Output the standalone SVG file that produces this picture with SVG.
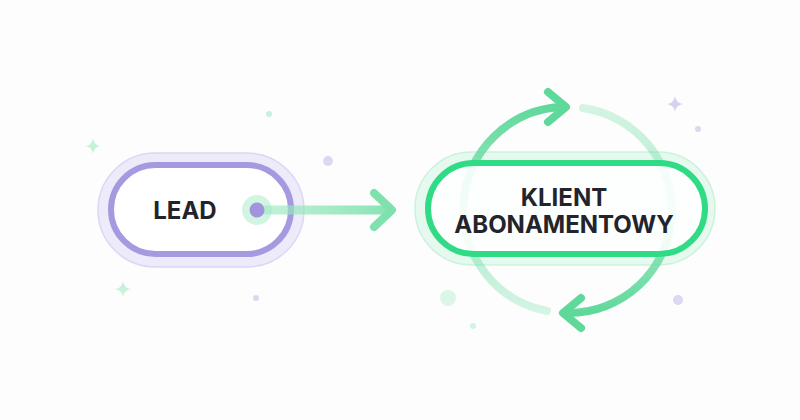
<svg xmlns="http://www.w3.org/2000/svg" width="800" height="420" viewBox="0 0 800 420">
<defs>
<style>
.lbl{font-family:Inter,"Liberation Sans",sans-serif;font-weight:700;fill:#23232b;text-anchor:middle}
.arc{fill:none;stroke-width:8;stroke-linecap:round}
.chev{fill:none;stroke:#5ed99a;stroke-width:8;stroke-linecap:round;stroke-linejoin:round}
.star-g{fill:#c6f1da}
.star-p{fill:#d6d0f2}
</style>
<linearGradient id="g1" gradientUnits="userSpaceOnUse" x1="0" y1="312" x2="0" y2="105">
<stop offset="0" stop-color="#5ed99a" stop-opacity="0.25"/>
<stop offset="0.5" stop-color="#5ed99a" stop-opacity="0.55"/>
<stop offset="1" stop-color="#5ed99a" stop-opacity="1"/>
</linearGradient>
<linearGradient id="g2" gradientUnits="userSpaceOnUse" x1="0" y1="105" x2="0" y2="313">
<stop offset="0" stop-color="#5ed99a" stop-opacity="0.25"/>
<stop offset="0.5" stop-color="#5ed99a" stop-opacity="0.5"/>
<stop offset="1" stop-color="#5ed99a" stop-opacity="1"/>
</linearGradient>
<linearGradient id="g3" gradientUnits="userSpaceOnUse" x1="257" y1="0" x2="393" y2="0">
<stop offset="0" stop-color="#9fe9c2" stop-opacity="0.6"/>
<stop offset="1" stop-color="#7fe2ae" stop-opacity="0.95"/>
</linearGradient>
</defs>
<rect width="800" height="420" fill="#fdfdfd"/>

<g id="decor">
<path class="star-g" d="M93 138 Q94 145 100 146 Q94 147 93 154 Q92 147 86 146 Q92 145 93 138Z"/>
<path class="star-g" d="M123 281 Q124 288 131 289 Q124 290 123 297 Q122 290 115 289 Q122 288 123 281Z"/>
<path class="star-p" d="M675 96 Q676 103 683 104 Q676 105 675 112 Q674 105 667 104 Q674 103 675 96Z"/>
<circle cx="269" cy="114" r="3" fill="#c6f1da"/>
<circle cx="328" cy="161" r="5" fill="#dcd7f3"/>
<circle cx="256" cy="298" r="3" fill="#dcd7f3"/>
<circle cx="698" cy="129" r="3" fill="#dcd7f3"/>
<circle cx="678" cy="300" r="5" fill="#dcd7f3"/>
<circle cx="448" cy="298" r="8" fill="#dbf6e8"/>
<circle cx="473" cy="326" r="3" fill="#d3f4e3"/>
</g>

<g id="lead">
<rect x="98" y="153" width="206" height="114" rx="57" fill="#edeafa" stroke="#dcd7f3" stroke-width="1.5"/>
<rect x="111" y="165" width="180" height="89" rx="44.5" fill="#ffffff" stroke="#a699df" stroke-width="6"/>
<text class="lbl" x="185" y="219" font-size="24">LEAD</text>
</g>

<g id="klient">
<rect x="415" y="152" width="300" height="113" rx="56.5" fill="#e6f9ef" stroke="#cbf2de" stroke-width="1.5"/>
</g>

<g id="connectors">
<path class="arc" stroke="url(#g1)" d="M547 311 A103 103 0 0 1 561 107"/>
<polyline class="chev" points="548,92 566,107 548,122"/>
<path class="arc" stroke="url(#g2)" d="M583 108 A103 103 0 0 1 569 313"/>
<polyline class="chev" points="581,298 563,313 581,328"/>
</g>

<g id="klient-inner">
<rect x="428" y="163" width="277" height="91" rx="45.5" fill="#ffffff" fill-opacity="0.88" stroke="#2fdc85" stroke-width="6"/>
<text class="lbl" x="564" y="206" font-size="24">KLIENT</text>
<text class="lbl" x="564" y="233" font-size="24">ABONAMENTOWY</text>
</g>

<g id="lead-arrow">
<circle cx="257" cy="210" r="15" fill="#c9f3dd" fill-opacity="0.85"/>
<line x1="257" y1="210" x2="390" y2="210" stroke="url(#g3)" stroke-width="9" stroke-linecap="round"/>
<polyline points="374,193 392,210 374,227" fill="none" stroke="#7fe2ae" stroke-width="8" stroke-linecap="round" stroke-linejoin="round"/>
<circle cx="257" cy="210" r="7.5" fill="#a193dc"/>
</g>
</svg>
